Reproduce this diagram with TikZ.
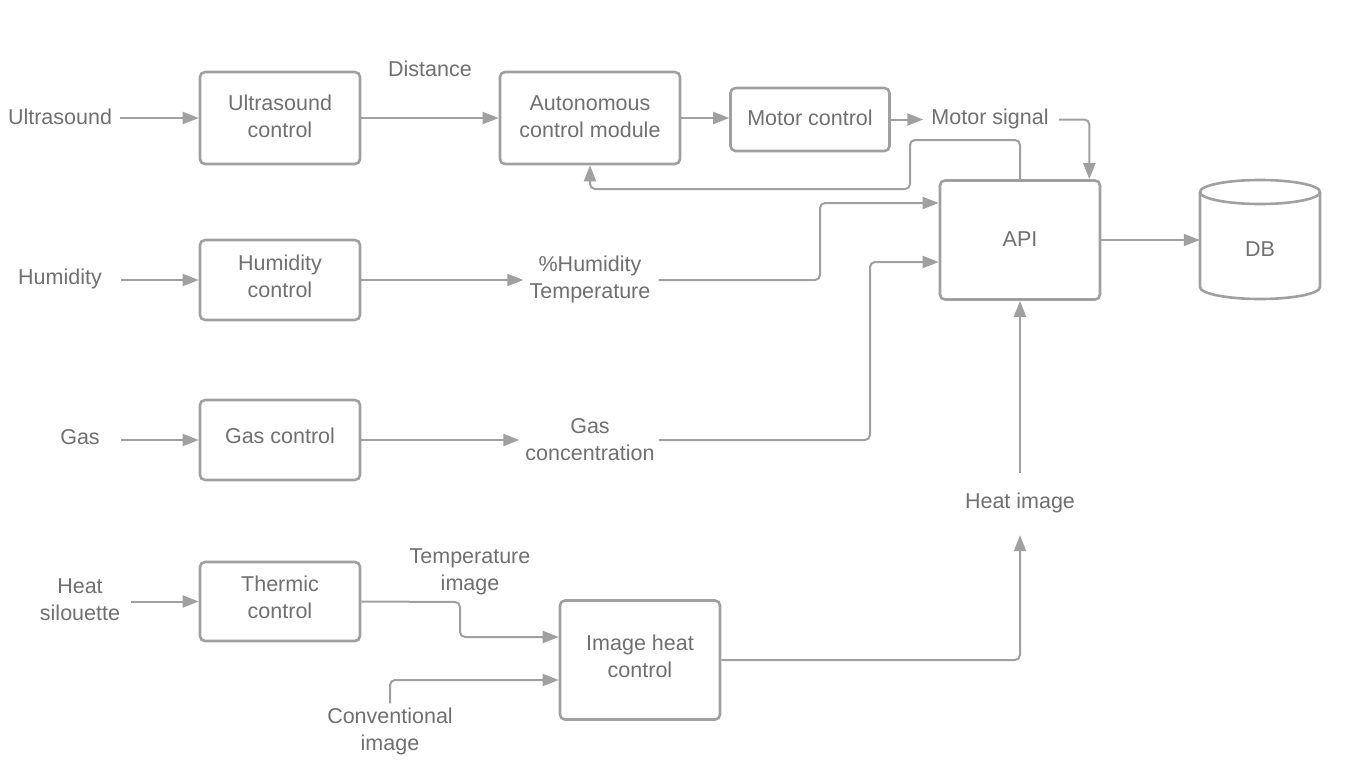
\documentclass[tikz,border=0pt]{standalone}
\usepackage{fontspec}
\setmainfont{Liberation Sans}
\usetikzlibrary{arrows.meta}
\definecolor{linec}{RGB}{160,160,160}
\definecolor{textc}{RGB}{112,112,112}
\begin{document}
\begin{tikzpicture}[x=1pt,y=-1pt,
  every node/.style={text=textc,font=\fontsize{21.5}{27}\selectfont},
  box/.style={draw=linec,line width=2.6pt,rounded corners=5pt,align=center,inner sep=0pt},
  lab/.style={align=center,inner sep=0pt},
  conn/.style={draw=linec,line width=2pt,rounded corners=5pt,-{Triangle[length=16pt,width=12pt]}}]
\useasboundingbox[fill=white] (0,0) rectangle (1348,771);
% boxes
\node[box,minimum width=160pt,minimum height=92pt,text depth=3pt] (uc) at (280,118) {Ultrasound\\control};
\node[box,minimum width=180pt,minimum height=92pt,text depth=3pt] (ac) at (590,118) {Autonomous\\control module};
\node[box,minimum width=159pt,minimum height=63pt,text depth=4pt] (mc) at (810,119.5) {Motor control};
\node[box,minimum width=160pt,minimum height=119pt,text depth=2pt] (api) at (1020,240) {API};
\node[box,minimum width=160pt,minimum height=80pt,text depth=8pt] (hc) at (280,280) {Humidity\\control};
\node[box,minimum width=160pt,minimum height=80pt,text depth=8pt] (gc) at (280,440) {Gas control};
\node[box,minimum width=160pt,minimum height=79pt,text depth=8pt] (tc) at (280,601.5) {Thermic\\control};
\node[box,minimum width=160pt,minimum height=119pt,text depth=7pt] (ihc) at (640,660) {Image heat\\control};
% DB cylinder
\draw[draw=linec,line width=2.6pt] (1260,192) ellipse [x radius=60pt,y radius=12pt];
\draw[draw=linec,line width=2.6pt] (1200,192) -- (1200,287) arc[start angle=180,end angle=360,x radius=60pt,y radius=12pt] -- (1320,192);
\node[lab,minimum width=120pt,minimum height=100pt] (db) at (1260,249) {DB};
% labels
\node[lab] (lu) at (60,117) {Ultrasound};
\node[lab] (ld) at (430,69) {Distance};
\node[lab] (ms) at (990,119) {Motor signal};
\node[lab] (lh) at (60,279) {Humidity};
\node[lab] (lht) at (590,279) {\%Humidity\\Temperature};
\node[lab] (lg) at (80,437) {Gas};
\node[lab] (lgc) at (590,440) {Gas\\concentration};
\node[lab] (lhi) at (1020,503) {Heat image};
\node[lab] (lhs) at (80,600) {Heat\\silouette};
\node[lab] (lti) at (470,572) {Temperature\\image};
\node[lab] (lci) at (390,731) {Conventional\\image};
% connectors
\draw[conn,shorten <=8pt] (lu.east |- uc.west) -- (uc.west);
\draw[conn] (uc.east) -- (uc.east -| ac.west);
\draw[conn] (ac.east) -- (ac.east -| mc.west);
\draw[conn,shorten >=8pt] (mc.east) -- (mc.east -| ms.west);
\draw[conn,shorten <=10pt] (ms.east |- mc.east) -| ([xshift=-12pt]api.north east);
\draw[conn] (api.north) |- (910,140) -- (910,189) -| (ac.south);
\draw[conn,shorten <=19pt] (lh.east |- hc.west) -- (hc.west);
\draw[conn,shorten >=6pt] (hc.east) -- (hc.east -| lht.west);
\draw[conn,shorten <=8pt] (lht.east |- hc.east) -- (820,280) |- ([yshift=37pt]api.west);
\draw[conn,shorten <=21pt] (lg.east |- gc.west) -- (gc.west);
\draw[conn,shorten >=6pt] (gc.east) -- (gc.east -| lgc.west);
\draw[conn,shorten <=4pt] (lgc.east |- gc.east) -- (870,440) |- ([yshift=-22pt]api.west);
\draw[conn] (api.east) -- (api.east -| db.west);
\draw[conn,shorten <=20pt] (lhi.north) -- (api.south);
\draw[conn,shorten >=22pt] (ihc.east) -| (lhi.south);
\draw[conn,shorten <=11pt] (lhs.east |- tc.west) -- (tc.west);
\draw[conn] (tc.east) -- (460,602) |- ([yshift=23pt]ihc.west);
\draw[conn,shorten <=4pt] (lci.north) |- ([yshift=-20pt]ihc.west);
\end{tikzpicture}
\end{document}
